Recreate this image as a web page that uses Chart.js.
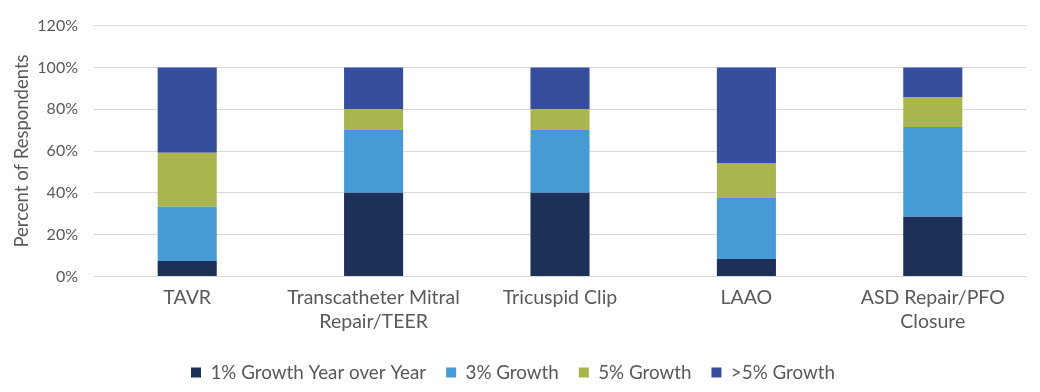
<!DOCTYPE html>
<html>
<head>
<meta charset="utf-8">
<script src="https://cdn.jsdelivr.net/npm/chart.js@4"></script>
<style>
  html, body { margin: 0; padding: 0; background: #fff; }
  #wrap { width: 1040px; height: 392px; }
</style>
</head>
<body>
<div id="wrap"><canvas id="growthChart"></canvas></div>
<script>
// --- data ---
const categories = [
    'TAVR',
    ['Transcatheter Mitral', 'Repair/TEER'],
    'Tricuspid Clip',
    'LAAO',
    ['ASD Repair/PFO', 'Closure']
];
const seriesNames = ['1% Growth Year over Year', '3% Growth', '5% Growth', '>5% Growth'];
const growth1 = [7.4, 40, 40, 8.3, 28.6];
const growth3 = [25.9, 30, 30, 29.2, 42.9];
const growth5 = [25.9, 10, 10, 16.7, 14.3];
const growthOver5 = [40.8, 20, 20, 45.8, 14.2];
const yTicks = [0, 20, 40, 60, 80, 100, 120];

const colors = ['#1d3057', '#479bd5', '#aab54e', '#364e9c'];
const textColor = '#595959';
const font = 'Lato, "Open Sans", sans-serif';

const seriesValues = [growth1, growth3, growth5, growthOver5];

new Chart(document.getElementById('growthChart'), {
    type: 'bar',
    data: {
        labels: categories,
        datasets: seriesNames.map((name, i) => ({
            label: name,
            data: seriesValues[i],
            backgroundColor: colors[i],
            borderWidth: 0,
            categoryPercentage: 1,
            barPercentage: 0.317
        }))
    },
    options: {
        responsive: true,
        maintainAspectRatio: false,
        animation: false,
        layout: { padding: { top: 13, right: 14, left: 0, bottom: 0 } },
        plugins: {
            legend: {
                position: 'bottom',
                labels: {
                    boxWidth: 10,
                    boxHeight: 10,
                    padding: 20,
                    color: textColor,
                    font: { family: font, size: 18.8 }
                }
            },
            tooltip: { enabled: false }
        },
        scales: {
            x: {
                stacked: true,
                grid: { display: false, drawTicks: false },
                border: { color: '#d9d9d9' },
                ticks: {
                    color: textColor,
                    maxRotation: 0,
                    autoSkip: false,
                    padding: 10,
                    font: { family: font, size: 19.5 }
                }
            },
            y: {
                stacked: true,
                min: 0,
                max: 120,
                afterBuildTicks: axis => { axis.ticks = yTicks.map(v => ({ value: v })); },
                afterFit: axis => { axis.width = 94; },
                grid: { color: '#d9d9d9', drawTicks: false },
                border: { display: false },
                ticks: {
                    color: textColor,
                    padding: 16,
                    font: { family: font, size: 16 },
                    callback: v => v + '%'
                },
                title: {
                    display: true,
                    text: 'Percent of Respondents',
                    color: textColor,
                    font: { family: font, size: 18.5 },
                    padding: { top: 11, bottom: 0 }
                }
            }
        }
    }
});
</script>
</body>
</html>
